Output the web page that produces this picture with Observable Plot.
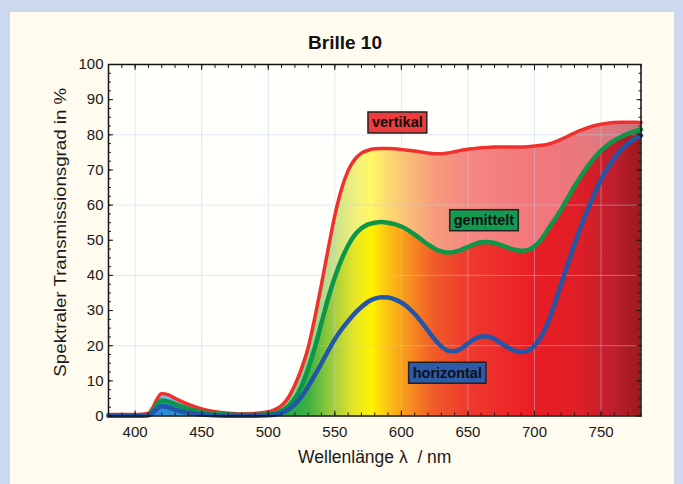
<!DOCTYPE html>
<html><head><meta charset="utf-8">
<script src="https://cdn.jsdelivr.net/npm/d3@7"></script>
<script src="https://cdn.jsdelivr.net/npm/@observablehq/plot@0.6"></script>
<style>
body{margin:0;background:#cdd8ee;font-family:"Liberation Sans",Arial,sans-serif;}
#wrap{position:relative;width:683px;height:484px;overflow:hidden;}
#panel{position:absolute;left:10px;top:12px;width:664px;height:480px;background:#fffbee;}
#title{position:absolute;left:0;top:32px;width:690px;text-align:center;font-weight:bold;font-size:19px;color:#111;}
#chart{position:absolute;left:0;top:0;}
</style></head><body>
<div id="wrap"><div id="panel"></div><div id="title">Brille 10</div><div id="chart"></div></div>
<script>
const wavelength = [380,390,400,405,410,413,416,420,425,430,440,450,460,470,480,490,500,505,510,515,520,525,530,535,540,545,550,555,560,565,570,575,580,585,590,595,600,605,610,615,620,625,630,635,640,645,650,655,660,665,670,675,680,685,690,695,700,705,710,715,720,725,730,735,740,745,750,755,760,765,770,775,780];
const vertikal = [0.4,0.4,0.4,0.5,0.8,2.2,4.5,6.4,6.0,5.0,3.3,2.0,1.2,0.8,0.6,0.7,1.2,1.8,3.0,5.2,8.8,13.5,19.5,28,37.5,47.5,57,64.5,69.8,73,74.8,75.6,76,76.1,76.1,76,75.8,75.6,75.4,75.1,74.8,74.6,74.6,74.8,75.2,75.6,75.9,76.1,76.3,76.4,76.5,76.5,76.5,76.5,76.5,76.6,76.8,77.0,77.3,77.9,78.7,79.6,80.5,81.3,82.0,82.6,83.0,83.3,83.5,83.6,83.6,83.6,83.5];
const gemittelt = [0.2,0.2,0.2,0.2,0.3,1.4,3.0,4.4,4.1,3.4,2.1,1.1,0.6,0.4,0.3,0.3,0.5,0.8,1.5,2.8,5.0,8.5,13.5,19.5,26.5,33.5,39.5,44.5,48.5,51.5,53.4,54.5,55.0,55.2,55.0,54.6,53.9,52.9,51.6,50.2,48.8,47.6,46.8,46.5,46.7,47.3,48.1,48.9,49.4,49.5,49.2,48.6,47.9,47.3,47.0,47.2,48.3,50.2,53.0,55.8,58.7,62.0,65.3,68.3,71.0,73.5,75.5,77.1,78.4,79.4,80.3,81.0,81.5];
const horizontal = [0.1,0.1,0.1,0.1,0.2,0.8,2.0,2.8,2.5,1.8,0.9,0.4,0.2,0.1,0.1,0.1,0.2,0.4,0.9,1.8,3.3,5.5,8.4,11.6,15.0,18.5,21.8,24.6,27.0,29.2,31.0,32.5,33.4,33.8,33.7,33.2,32.3,30.9,29.0,26.8,24.3,21.8,19.8,18.6,18.4,19.2,20.6,21.9,22.6,22.6,21.9,20.7,19.5,18.6,18.2,18.6,20.0,22.6,26.5,31.8,37.6,43.2,48.8,54.0,58.8,63.2,67.2,70.6,73.4,75.6,77.4,78.8,79.8];

const xTicks = [400,450,500,550,600,650,700,750];
const yTicks = [0,10,20,30,40,50,60,70,80,90,100];
const xGrid = [400,450,500,550,600,650,700,750];
const yGrid = [20,40,60,80];

const xTitle = "Wellenlänge λ  / nm";
const yTitle = "Spektraler Transmissionsgrad in %";

const seriesLabels = ["vertikal","gemittelt","horizontal"];
const labelX = [597,662,634.5];
const labelY = [83.4,55.6,12.2];
const labelFill = ["#ee3b3b","#149a50","#2b5ba9"];

const spectrumNm = [380,420,450,480,505,530,550,565,578,590,605,625,650,700,735,760,780];
const spectrumColor = ["#3a5cb8","#2a8ad8","#1e9ed0","#14a060","#16a64a","#3cb043","#a6ce39","#e6e62a","#fff200","#fcc314","#f7941d","#f15a29","#ee3a2e","#ec1c24","#dc1f26","#bf1e2e","#9c1a1c"];

const rows = wavelength.map((w, i) => ({w, v: vertikal[i], g: gemittelt[i], h: horizontal[i]}));
const labelRows = seriesLabels.map((t, i) => ({t, x: labelX[i], y: labelY[i]}));

function spectrumDefs(index, scales) {
  const defs = d3.create("svg:defs");
  const x0 = scales.x(spectrumNm[0]), x1 = scales.x(spectrumNm[spectrumNm.length - 1]);
  const lg = defs.append("linearGradient").attr("id", "spectrum")
    .attr("gradientUnits", "userSpaceOnUse")
    .attr("x1", x0).attr("x2", x1).attr("y1", 0).attr("y2", 0);
  spectrumNm.forEach((nm, i) => {
    lg.append("stop").attr("offset", (scales.x(nm) - x0) / (x1 - x0)).attr("stop-color", spectrumColor[i]);
  });
  return defs.node();
}

const curve = "monotone-x";
const blank = () => "";
const chart = Plot.plot({
  width: 683, height: 484,
  marginLeft: 108, marginRight: 42.5, marginTop: 64, marginBottom: 68.5,
  style: {background: "transparent", fontFamily: "'Liberation Sans', Arial, sans-serif", color: "#1a1a1a", overflow: "visible"},
  x: {domain: [380, 780]},
  y: {domain: [0, 100]},
  marks: [
    Plot.frame({fill: "#fffffb", stroke: null}),
    spectrumDefs,
    Plot.areaY(rows, {x: "w", y: "v", fill: "url(#spectrum)", curve}),
    Plot.areaY(rows, {x: "w", y1: "g", y2: "v", fill: "white", fillOpacity: 0.4, curve}),
    Plot.gridX(xGrid, {stroke: "#b8d0ec", strokeOpacity: 0.45}),
    Plot.gridY(yGrid, {stroke: "#b8d0ec", strokeOpacity: 0.45}),
    Plot.line(rows, {x: "w", y: "v", stroke: "#f0302c", strokeWidth: 3.5, curve}),
    Plot.line(rows, {x: "w", y: "g", stroke: "#0e9648", strokeWidth: 4.5, curve}),
    Plot.line(rows, {x: "w", y: "h", stroke: "#2356a6", strokeWidth: 4.5, curve}),
    Plot.frame({stroke: "#111", strokeWidth: 1.5}),
    Plot.axisX(xTicks, {anchor: "bottom", tickSize: 0, tickPadding: 10, fontSize: 15, label: null}),
    Plot.axisX(xTicks, {anchor: "bottom", tickSize: -5, tickFormat: blank, label: null}),
    Plot.axisX(d3.range(380, 781, 10), {anchor: "bottom", tickSize: -3, tickFormat: blank, label: null}),
    Plot.axisX(xTicks, {anchor: "top", tickSize: -5, tickFormat: blank, label: null}),
    Plot.axisX(d3.range(380, 781, 10), {anchor: "top", tickSize: -3, tickFormat: blank, label: null}),
    Plot.axisY(yTicks, {anchor: "left", tickSize: 0, tickPadding: 5, fontSize: 15, label: null}),
    Plot.axisY(yTicks, {anchor: "left", tickSize: -5, tickFormat: blank, label: null}),
    Plot.axisY(d3.range(0, 100.1, 2.5), {anchor: "left", tickSize: -3, tickFormat: blank, label: null}),
    Plot.axisY(yTicks, {anchor: "right", tickSize: -5, tickFormat: blank, label: null}),
    Plot.axisY(d3.range(0, 100.1, 2.5), {anchor: "right", tickSize: -3, tickFormat: blank, label: null}),
    Plot.text([xTitle], {frameAnchor: "bottom", textAnchor: "middle", dx: 0, dy: 47, fontSize: 17.5, fill: "#1a1a1a"}),
    Plot.text([yTitle], {frameAnchor: "left", textAnchor: "middle", lineAnchor: "middle", rotate: -90, dx: -48, dy: -8, fontSize: 17, fill: "#1a1a1a"}),
    Plot.text(labelRows, {x: "x", y: "y", text: "t", fontWeight: "bold", fontSize: 14.5, fill: "#111"})
  ]
});
document.getElementById("chart").append(chart);

const allText = Array.from(chart.querySelectorAll("text"));
const yt = allText.find(t => t.textContent === yTitle);
if (yt) {
  const tr = yt.getAttribute("transform") || "";
  yt.setAttribute("transform", tr + " scale(1.1,1)");
}

seriesLabels.forEach((name, i) => {
  const t = allText.find(el => el.textContent === name);
  if (!t) return;
  const b = t.getBBox();
  const r = document.createElementNS("http://www.w3.org/2000/svg", "rect");
  r.setAttribute("x", b.x - 4);
  r.setAttribute("y", b.y - 2.5);
  r.setAttribute("width", b.width + 8);
  r.setAttribute("height", b.height + 5);
  const tr = t.getAttribute("transform");
  if (tr) r.setAttribute("transform", tr);
  r.setAttribute("fill", labelFill[i]);
  r.setAttribute("stroke", "#222");
  r.setAttribute("stroke-width", 1.5);
  t.parentNode.insertBefore(r, t);
});
</script>
</body></html>
